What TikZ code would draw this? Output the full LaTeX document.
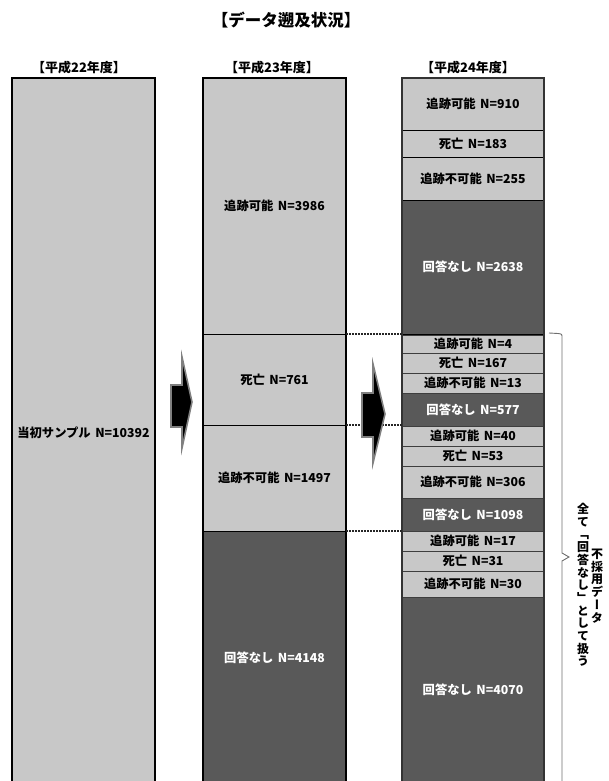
\documentclass[tikz,border=0pt]{standalone}
\usepackage{fontspec}
\setmainfont{Noto Sans CJK JP}
\newfontfamily\vjp[RawFeature=+vert]{Noto Sans CJK JP}
\definecolor{lg}{HTML}{C8C8C8}
\definecolor{dg}{HTML}{595959}
\definecolor{brc}{HTML}{6E6E6E}
\newcommand\wideword{\spaceskip 4.5pt\relax}
\newcommand\segbox[7]{%
  \node[#1, minimum width={(#4-#3)*1pt}, minimum height={(#6-#5)*1pt}] (#2) at ({(#3+#4)/2},{(#5+#6)/2}) {\wideword #7};}
\tikzset{
  seg/.style={draw=black, line width=0.8pt, inner sep=0pt, outer sep=0pt, font=\bfseries\fontsize{12.3}{14}\selectfont},
  lt/.style={seg, fill=lg},
  dk/.style={seg, fill=dg, text=white},
  dk3/.style={seg, draw=dg!70!black, fill=dg, text=white},
  lt3/.style={seg, draw=dg!70!black, fill=lg},
  colb/.style={line width=2pt, draw=black},
  colc/.style={line width=2pt, draw=black!80},
  hdr/.style={font=\bfseries\fontsize{13}{15}\selectfont, inner sep=0pt},
  ttl/.style={font=\bfseries\fontsize{16.5}{19}\selectfont, inner sep=0pt},
  dotl/.style={line width=1.2pt, dash pattern=on 2pt off 1pt, draw=black!85},
  blkarrow/.style={fill=black, draw=black!50, line width=1.6pt, line join=miter},
  brace/.style={draw=brc, line width=0.9pt},
  vtext/.style={font=\vjp\bfseries\fontsize{12}{12.7}\selectfont, align=center, inner sep=0pt}
}
\begin{document}
\begin{tikzpicture}[x=1pt,y=-1pt]
\useasboundingbox (0,0) rectangle (608,781);
\clip (0,0) rectangle (608,781);
% title and headers
\node[ttl] (title) at (286,20) {【データ遡及状況】};
\node[hdr] (h1) at (79,68) {【平成22年度】};
\node[hdr] (h2) at (272,68) {【平成23年度】};
\node[hdr] (h3) at (468,68) {【平成24年度】};
% column 1
\segbox{lt}{c1}{12}{155}{78}{788}{当初サンプル N=10392}
% column 2
\segbox{lt}{c2a}{203}{346}{78}{334}{追跡可能 N=3986}
\segbox{lt}{c2b}{203}{346}{334}{425}{死亡 N=761}
\segbox{lt}{c2c}{203}{346}{425}{531}{追跡不可能 N=1497}
\segbox{dk}{c2d}{203}{346}{531}{785}{回答なし N=4148}
% column 3
\segbox{lt}{c3a}{402}{544}{78}{130}{追跡可能 N=910}
\segbox{lt}{c3b}{402}{544}{130}{157}{死亡 N=183}
\segbox{lt}{c3c}{402}{544}{157}{200}{追跡不可能 N=255}
\segbox{dk}{c3d}{402}{544}{200}{334}{回答なし N=2638}
\segbox{lt3}{c3e}{402}{544}{335}{353}{追跡可能 N=4}
\segbox{lt3}{c3f}{402}{544}{353}{373}{死亡 N=167}
\segbox{lt3}{c3g}{402}{544}{373}{393}{追跡不可能 N=13}
\segbox{dk3}{c3h}{402}{544}{393}{426}{回答なし N=577}
\segbox{lt3}{c3i}{402}{544}{426}{446}{追跡可能 N=40}
\segbox{lt3}{c3j}{402}{544}{446}{466}{死亡 N=53}
\segbox{lt3}{c3k}{402}{544}{466}{498}{追跡不可能 N=306}
\segbox{dk3}{c3l}{402}{544}{498}{531}{回答なし N=1098}
\segbox{lt3}{c3m}{402}{544}{531}{551}{追跡可能 N=17}
\segbox{lt3}{c3n}{402}{544}{551}{571}{死亡 N=31}
\segbox{lt3}{c3o}{402}{544}{571}{597}{追跡不可能 N=30}
\segbox{dk3}{c3p}{402}{544}{597}{783}{回答なし N=4070}
% column outlines
\draw[colb] (c1.north west) rectangle (c1.south east);
\draw[colb] (c2a.north west) rectangle (c2d.south east);
\draw[colc] (c3a.north west) rectangle (c3p.south east);
% dotted connectors
\draw[dotl] (c2a.south east) -- (c2a.south east -| c3e.west);
\draw[dotl] (c2b.south east) -- (c2b.south east -| c3e.west);
\draw[dotl] (c2c.south east) -- (c2c.south east -| c3e.west);
% block arrows
\filldraw[blkarrow] (171,385) -- (182,385) -- (182,357) -- (192,402) -- (182,448) -- (182,427) -- (171,427) -- cycle;
\filldraw[blkarrow] (362,393) -- (373,393) -- (373,364) -- (385,414) -- (373,463) -- (373,437) -- (362,437) -- cycle;
% brace
\coordinate (bt) at (549,333);
\coordinate (bm) at (569,557);
\coordinate (bb) at (562,790);
\draw[brace] (bt) -- (558,333.5) .. controls (562,334) .. (562,338) -- (562,553) -- (bm) -- (562,561) -- (bb);
% vertical texts
\node[vtext] (v1) at (597,586) {不\\採\\用\\デ\\ー\\タ};
\node[vtext] (v2) at (583,585) {全\\て\\「\\回\\答\\な\\し\\」\\と\\し\\て\\扱\\う};
\end{tikzpicture}
\end{document}
